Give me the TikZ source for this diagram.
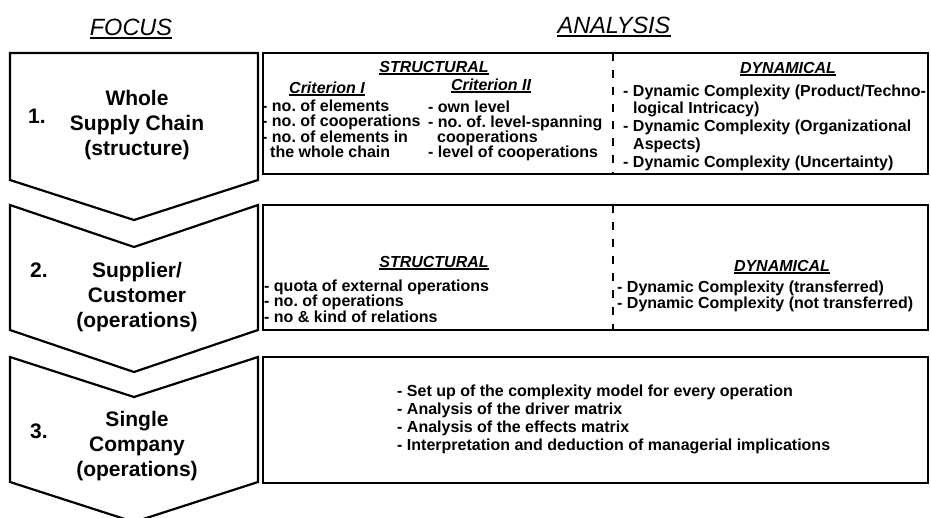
\documentclass[tikz,border=0pt]{standalone}
\usepackage{fontspec}
\setmainfont{Liberation Sans}
\usetikzlibrary{positioning}
\frenchspacing

\begin{document}
\begin{tikzpicture}[
    x=1pt, y=-1pt,
    chevron/.style={draw, line width=2.2pt, line join=miter},
    panel/.style={draw, line width=2.2pt},
    divider/.style={line width=1.6pt, dash pattern=on 8pt off 9pt},
    headline/.style={font=\fontsize{23.5}{24}\selectfont\itshape, anchor=base, inner sep=0pt},
    steptext/.style={font=\fontsize{21}{21}\selectfont\bfseries, anchor=base, inner sep=0pt},
    stepnum/.style={font=\fontsize{21}{21}\selectfont\bfseries, anchor=base west, inner sep=0pt},
    subhead/.style={font=\fontsize{16}{16}\selectfont\bfseries\itshape, anchor=base, inner sep=0pt},
    itemlist/.style={font=\fontsize{16}{#1}\selectfont\bfseries, align=left, anchor=base west, inner sep=0pt},
    uline/.style={line width=1.3pt},
]
\useasboundingbox (0,0) rectangle (931,517);
\clip (0,0) rectangle (931,517);

% Column titles
\node[headline] (focus) at (131, 35) {FOCUS};
\node[headline] (analysis) at (614, 33) {ANALYSIS};
\foreach \n in {focus, analysis}
    \draw[uline, line width=1.6pt] ([yshift=-3pt]\n.base west) -- ([yshift=-3pt]\n.base east);

% Focus chevrons
\draw[chevron] (10,53) -- (258,53) -- (258,180) -- (134,220) -- (10,180) -- cycle;
\draw[chevron] (10,205) -- (134,247) -- (258,205) -- (258,330) -- (134,372) -- (10,330) -- cycle;
\draw[chevron] (10,357) -- (134,397) -- (258,357) -- (258,482) -- (134,522) -- (10,482) -- cycle;

% Step 1
\node[stepnum] (n1) at (28, 123) {1.};
\node[steptext] (s1a) at (137, 105) {Whole};
\node[steptext] (s1b) at (137, 130) {Supply Chain};
\node[steptext] (s1c) at (137, 155) {(structure)};

% Step 2
\node[stepnum] (n2) at (30, 277) {2.};
\node[steptext] (s2a) at (137, 277) {Supplier/};
\node[steptext] (s2b) at (137, 302) {Customer};
\node[steptext] (s2c) at (137, 327) {(operations)};

% Step 3
\node[stepnum] (n3) at (30, 438) {3.};
\node[steptext] (s3a) at (137, 426) {Single};
\node[steptext] (s3b) at (137, 451) {Company};
\node[steptext] (s3c) at (137, 476) {(operations)};

% Analysis panels
\draw[panel] (263,53) rectangle (928,174);
\draw[panel] (263,205) rectangle (928,330);
\draw[panel] (263,357) rectangle (928,483);
\draw[divider] (613,53) -- (613,174);
\draw[divider] (613,205) -- (613,330);

% Panel 1: structural (lists placed at the baseline of their last line)
\node[subhead] (struct1) at (434, 72) {STRUCTURAL};
\node[subhead] (crit1) at (327, 93) {Criterion I};
\node[subhead] (crit2) at (491, 90) {Criterion II};
\node[itemlist=14.7pt] (crit1list) at (262, 157)
    {- no. of elements\\- no. of cooperations\\- no. of elements in\\\hspace*{8pt}the whole chain};
\node[itemlist=15pt] (crit2list) at (428, 157)
    {- own level\\- no. of. level-spanning\\\hspace*{9pt}cooperations\\- level of cooperations};

% Panel 1: dynamical
\node[subhead] (dyn1) at (788, 73) {DYNAMICAL};
\node[itemlist=17.7pt] (dyn1list) at (623, 167)
    {- Dynamic Complexity (Product/Techno-\\\hspace*{10pt}logical Intricacy)\\- Dynamic Complexity (Organizational\\\hspace*{10pt}Aspects)\\- Dynamic Complexity (Uncertainty)};

% Panel 2
\node[subhead] (struct2) at (434, 267) {STRUCTURAL};
\node[itemlist=15.5pt] (struct2list) at (264, 322)
    {- quota of external operations\\- no. of operations\\- no \& kind of relations};
\node[subhead] (dyn2) at (782, 271) {DYNAMICAL};
\node[itemlist=16pt] (dyn2list) at (617, 308)
    {- Dynamic Complexity (transferred)\\- Dynamic Complexity (not transferred)};

% Panel 3
\node[itemlist=18pt] (companylist) at (397, 450)
    {- Set up of the complexity model for every operation\\- Analysis of the driver matrix\\- Analysis of the effects matrix\\- Interpretation and deduction of managerial implications};

% Underlined sub-headings
\foreach \n in {struct1, crit1, crit2, dyn1, struct2, dyn2}
    \draw[uline] ([yshift=-2pt]\n.base west) -- ([yshift=-2pt]\n.base east);

\end{tikzpicture}
\end{document}
